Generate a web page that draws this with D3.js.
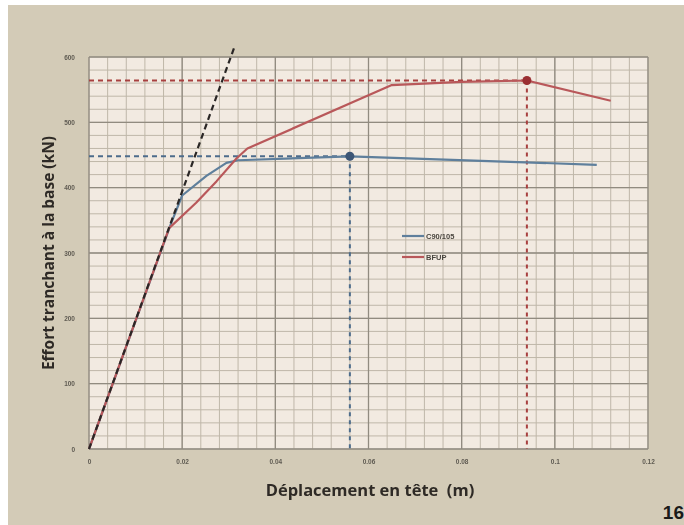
<!DOCTYPE html>
<html>
<head>
<meta charset="utf-8">
<script src="https://cdn.jsdelivr.net/npm/d3@7"></script>
<style>
  html, body { margin: 0; padding: 0; background: #ffffff; }
  svg { display: block; }
</style>
</head>
<body>
<svg id="chart" width="684" height="525"></svg>
<script>
// Pushover curves: base shear vs. top displacement
const xTicks = [0, 0.02, 0.04, 0.06, 0.08, 0.1, 0.12];
const xTickLabels = ["0", "0.02", "0.04", "0.06", "0.08", "0.1", "0.12"];
const yTicks = [0, 100, 200, 300, 400, 500, 600];

const seriesNames = ["C90/105", "BFUP"];
const c90Disp  = [0, 0.0176, 0.020, 0.0252, 0.0295, 0.032, 0.056, 0.109];
const c90Shear = [0, 345, 388, 418, 438, 442, 448, 435];
const bfupDisp  = [0, 0.0172, 0.023, 0.0274, 0.0317, 0.034, 0.065, 0.080, 0.094, 0.112];
const bfupShear = [0, 338, 377, 410, 445, 460, 557, 562, 564, 533];

// Initial stiffness line
const elasticDisp  = [0, 0.0312];
const elasticShear = [0, 615];

// Peak points (marker + dashed guides)
const peakDisp  = [0.056, 0.094];
const peakShear = [448, 564];

const colors = ["#5e7f9c", "#b9585a"];
const guideColors = ["#4d6c8c", "#a8403f"];

const svg = d3.select("#chart");
const W = 684, H = 525;

const defs = svg.append("defs");
defs.append("filter").attr("id", "soft")
  .append("feGaussianBlur").attr("stdDeviation", 0.6);

// page background
svg.append("rect").attr("width", W).attr("height", H).attr("fill", "#ffffff");
svg.append("rect").attr("x", 8).attr("y", 5).attr("width", W - 8).attr("height", H - 5)
  .attr("fill", "#d3cbb7");

const plot = { left: 89, right: 648, top: 57, bottom: 449 };
const x = d3.scaleLinear().domain([0, 0.12]).range([plot.left, plot.right]);
const y = d3.scaleLinear().domain([0, 600]).range([plot.bottom, plot.top]);

const g = svg.append("g").attr("filter", "url(#soft)");

// plot area
g.append("rect")
  .attr("x", plot.left).attr("y", plot.top)
  .attr("width", plot.right - plot.left).attr("height", plot.bottom - plot.top)
  .attr("fill", "#f2eae1");

// minor grid
const xMinor = d3.range(0, 0.1201, 0.004);
const yMinor = d3.range(0, 601, 20);
g.append("g").selectAll("line").data(xMinor).join("line")
  .attr("x1", d => x(d)).attr("x2", d => x(d))
  .attr("y1", plot.top).attr("y2", plot.bottom)
  .attr("stroke", "#bfb7a9").attr("stroke-width", 1);
g.append("g").selectAll("line").data(yMinor).join("line")
  .attr("y1", d => y(d)).attr("y2", d => y(d))
  .attr("x1", plot.left).attr("x2", plot.right)
  .attr("stroke", "#bfb7a9").attr("stroke-width", 1);

// major grid
g.append("g").selectAll("line").data(xTicks).join("line")
  .attr("x1", d => x(d)).attr("x2", d => x(d))
  .attr("y1", plot.top).attr("y2", plot.bottom)
  .attr("stroke", "#918b80").attr("stroke-width", 1.3);
g.append("g").selectAll("line").data(yTicks).join("line")
  .attr("y1", d => y(d)).attr("y2", d => y(d))
  .attr("x1", plot.left).attr("x2", plot.right)
  .attr("stroke", "#918b80").attr("stroke-width", 1.3);

// axes (labels only, small grey text)
const xAxis = d3.axisBottom(x).tickValues(xTicks)
  .tickFormat((d, i) => xTickLabels[i]).tickSize(0).tickPadding(10);
const yAxis = d3.axisLeft(y).tickValues(yTicks).tickSize(0).tickPadding(14);

const gx = g.append("g").attr("transform", `translate(0,${plot.bottom})`).call(xAxis);
const gy = g.append("g").attr("transform", `translate(${plot.left},0)`).call(yAxis);
[gx, gy].forEach(a => {
  a.select(".domain").remove();
  a.selectAll("text").attr("fill", "#5f5b52")
    .style("font-family", "'Liberation Sans', Arial, sans-serif")
    .style("font-weight", "bold")
    .style("font-size", "6.5px");
});

const line = d3.line().x(d => x(d[0])).y(d => y(d[1]));

// dashed guides to the peaks
peakDisp.forEach((px, i) => {
  g.append("line")
    .attr("x1", x(0)).attr("x2", x(px))
    .attr("y1", y(peakShear[i])).attr("y2", y(peakShear[i]))
    .attr("stroke", guideColors[i]).attr("stroke-width", 2)
    .attr("stroke-dasharray", "5,4");
  g.append("line")
    .attr("x1", x(px)).attr("x2", x(px))
    .attr("y1", y(peakShear[i])).attr("y2", y(0))
    .attr("stroke", guideColors[i]).attr("stroke-width", 2)
    .attr("stroke-dasharray", "4,4");
});

// curves
const curves = [
  d3.zip(c90Disp, c90Shear),
  d3.zip(bfupDisp, bfupShear)
];
curves.forEach((pts, i) => {
  g.append("path").datum(pts)
    .attr("d", line)
    .attr("fill", "none")
    .attr("stroke", colors[i])
    .attr("stroke-width", 2.2)
    .attr("stroke-linejoin", "round");
});

// initial stiffness (dashed black)
g.append("path").datum(d3.zip(elasticDisp, elasticShear))
  .attr("d", line)
  .attr("fill", "none")
  .attr("stroke", "#2b2826")
  .attr("stroke-width", 2.2)
  .attr("stroke-dasharray", "6,4");

// peak markers
peakDisp.forEach((px, i) => {
  g.append("circle")
    .attr("cx", x(px)).attr("cy", y(peakShear[i]))
    .attr("r", 4.5)
    .attr("fill", i === 0 ? "#3c5676" : "#9a2f30");
});

// legend
const legend = g.append("g").attr("transform", "translate(402,236)");
seriesNames.forEach((name, i) => {
  const row = legend.append("g").attr("transform", `translate(0,${i * 21})`);
  row.append("line").attr("x1", 0).attr("x2", 22).attr("y1", 0).attr("y2", 0)
    .attr("stroke", colors[i]).attr("stroke-width", 2.2);
  row.append("text").attr("x", 24).attr("y", 2.5)
    .attr("fill", "#4a463f")
    .style("font-family", "'Liberation Sans', Arial, sans-serif")
    .style("font-weight", "bold")
    .style("font-size", "7.5px")
    .text(name);
});

// axis titles
g.append("text")
  .attr("transform", `translate(54,${(plot.top + plot.bottom) / 2}) rotate(-90)`)
  .attr("text-anchor", "middle")
  .attr("fill", "#2e2a25")
  .style("font-family", "'Open Sans', 'Liberation Sans', sans-serif")
  .style("font-weight", "bold")
  .style("font-size", "15.5px")
  .text("Effort tranchant à la base (kN)");

g.append("text")
  .attr("x", 370).attr("y", 496)
  .attr("text-anchor", "middle")
  .attr("fill", "#2e2a25")
  .style("font-family", "'Open Sans', 'Liberation Sans', sans-serif")
  .style("font-weight", "bold")
  .style("font-size", "16.5px")
  .attr("xml:space", "preserve")
  .text("Déplacement en tête  (m)");

// page number
svg.append("text")
  .attr("x", 684).attr("y", 519)
  .attr("text-anchor", "end")
  .attr("fill", "#1a1a1a")
  .style("font-family", "'Liberation Sans Narrow', 'Liberation Sans', Arial, sans-serif")
  .style("font-weight", "bold")
  .style("font-size", "19px")
  .text("16");
</script>
</body>
</html>
